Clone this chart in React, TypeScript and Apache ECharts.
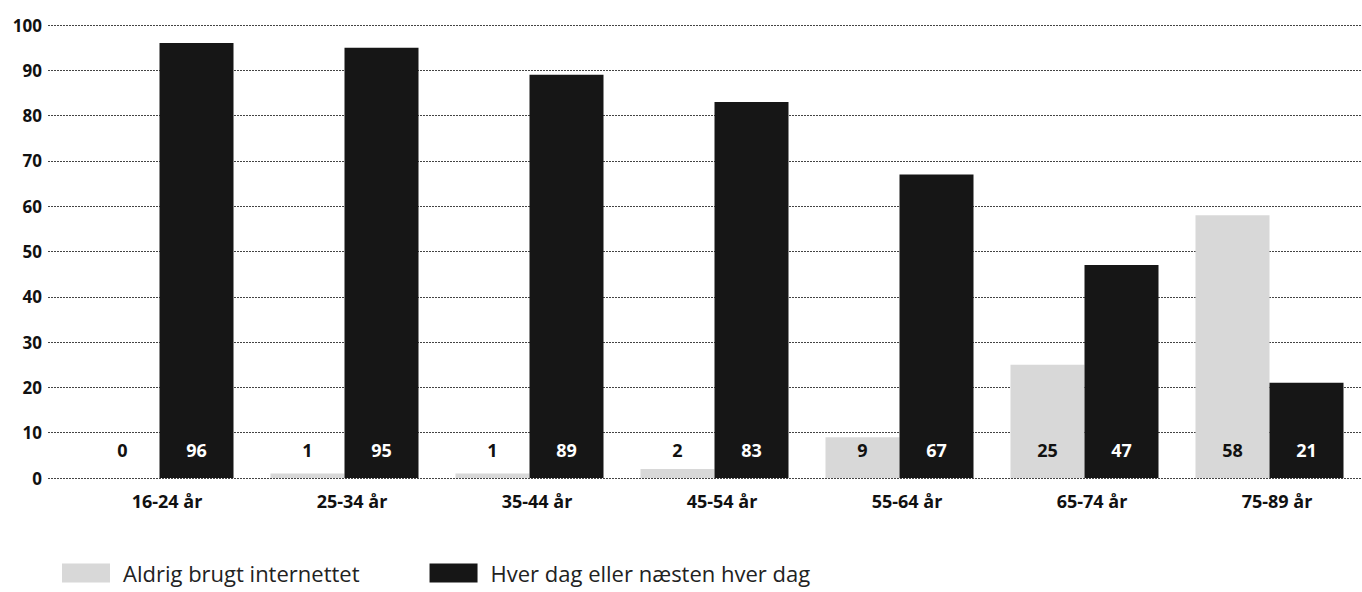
import React, { useEffect, useRef } from "react";
import * as echarts from "echarts";

const categories = ["16-24 år", "25-34 år", "35-44 år", "45-54 år", "55-64 år", "65-74 år", "75-89 år"];
const neverUsed = [0, 1, 1, 2, 9, 25, 58];
const everyDay = [96, 95, 89, 83, 67, 47, 21];
const seriesNames = ["Aldrig brugt internettet", "Hver dag eller næsten hver dag"];

const FONT = "'Open Sans', 'DejaVu Sans', sans-serif";

export default function App() {
  const ref = useRef<HTMLDivElement>(null);
  useEffect(() => {
    if (!ref.current) return;
    const chart = echarts.init(ref.current, null, { renderer: "svg" });
    chart.setOption({
      animation: false,
      backgroundColor: "#ffffff",
      textStyle: { fontFamily: FONT },
      grid: [
        { left: 48, right: 0, top: 25, bottom: 114 },
        { left: 67, right: -15, top: 25, bottom: 114 },
      ],
      legend: {
        left: 62,
        top: 561,
        padding: 0,
        itemWidth: 48,
        itemHeight: 19,
        itemGap: 70,
        icon: "rect",
        textStyle: { fontSize: 22, lineHeight: 24, color: "#222", fontFamily: FONT, padding: [0, 0, 0, 8] },
        data: seriesNames,
      },
      xAxis: [
        { gridIndex: 0, type: "category", data: [""], show: false },
        {
          gridIndex: 1,
          type: "category",
          data: categories,
          axisLine: { show: false },
          axisTick: { show: false },
          axisLabel: {
            fontSize: 18,
            fontWeight: "bold",
            color: "#111",
            margin: 14,
            fontFamily: FONT,
            padding: [0, 0, 0, 15],
          },
        },
      ],
      yAxis: [
        {
          gridIndex: 0,
          type: "value",
          min: 0,
          max: 100,
          interval: 10,
          axisLine: { show: false },
          axisTick: { show: false },
          axisLabel: { fontSize: 17, fontWeight: "bold", color: "#111", margin: 6, fontFamily: FONT },
          splitLine: { show: true, lineStyle: { color: "#444", width: 1, type: [2, 1] } },
        },
        { gridIndex: 1, type: "value", min: 0, max: 100, show: false, splitLine: { show: false } },
      ],
      series: [
        {
          name: seriesNames[0],
          type: "bar",
          xAxisIndex: 1,
          yAxisIndex: 1,
          data: neverUsed,
          barWidth: 74,
          barGap: "0%",
          itemStyle: { color: "#d8d8d8" },
          label: {
            show: true,
            position: "insideBottom",
            distance: 19,
            fontSize: 18,
            fontWeight: "bold",
            color: "#111",
            fontFamily: FONT,
          },
        },
        {
          name: seriesNames[1],
          type: "bar",
          xAxisIndex: 1,
          yAxisIndex: 1,
          data: everyDay,
          barWidth: 74,
          barGap: "0%",
          itemStyle: { color: "#161616" },
          label: {
            show: true,
            position: "insideBottom",
            distance: 19,
            fontSize: 18,
            fontWeight: "bold",
            color: "#fff",
            fontFamily: FONT,
          },
        },
      ],
    });
    return () => chart.dispose();
  }, []);
  return <div ref={ref} style={{ position: "fixed", left: 0, top: 0, width: 1362, height: 592 }} />;
}
